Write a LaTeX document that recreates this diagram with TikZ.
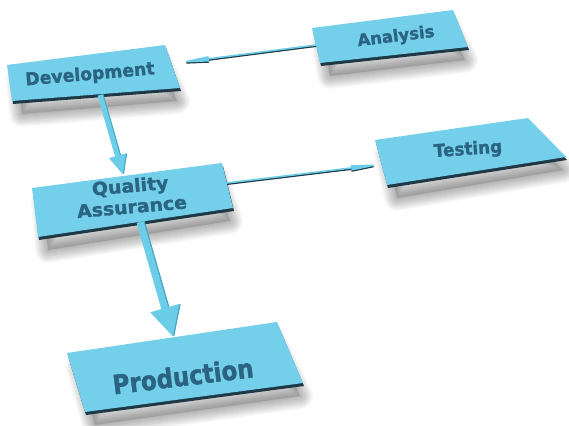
\documentclass[tikz,border=0pt]{standalone}
\usepackage{fontspec}
\setmainfont{DejaVu Sans}[BoldFeatures={FakeBold=1.5}]
\usetikzlibrary{arrows.meta,calc}
\definecolor{boxc}{HTML}{74CFEA}
\definecolor{edgec}{HTML}{1E3846}
\definecolor{txtc}{HTML}{2A6482}
\definecolor{arrc}{HTML}{6CCDE8}
\definecolor{arrd}{HTML}{4AA6C2}
\newcommand\flowbox[4]{%
  \fill[black,opacity=0.12]
      ($(#1)+(12,14)$)--($(#2)+(-6,14)$)--($(#3)+(-3,13)$)--($(#4)+(10,13)$)--cycle;
  \foreach \w in {2,4,...,26}{%
    \draw[black,opacity=0.022,line width=\w pt,line join=round]
      ($(#1)+(12,14)$)--($(#2)+(-6,14)$)--($(#3)+(-3,13)$)--($(#4)+(10,13)$)--cycle;}
  \fill[edgec,shift={(1,3)}] (#1)--(#2)--(#3)--(#4)--cycle;
  \fill[boxc] (#1)--(#2)--(#3)--(#4)--cycle;
}
\newcommand\flowlabel[7]{%
  \node[lbl,rotate=#3,xscale=#5,yscale=#6,font=\fontsize{#4}{#4}\selectfont\bfseries] (#1) at (#2) {#7};
}
\tikzset{
  lbl/.style={text=txtc,inner sep=0pt,align=center},
  vshaft/.style={arrc},
  hshaft/.style={arrc,line width=1.6pt},
  hedge/.style={edgec,line width=1.6pt,transform canvas={yshift=-1.2pt}},
}
\begin{document}
\begin{tikzpicture}[x=1pt,y=-1pt]
\useasboundingbox (0,0) rectangle (569,425);
\fill[white] (0,0) rectangle (569,425);
% boxes
\flowbox{312,28}{453,10}{468,47}{320,63}
\flowbox{7,65}{165,45}{180,88}{12,101}
\flowbox{375,140}{528,118}{566,157}{387,185}
\flowbox{32,188}{222,163}{233,208}{38,237}
\flowbox{67,353}{277,322}{303,383}{85,412}
% connector end points
\coordinate (anaL) at (316,45);
\coordinate (devR) at (176,63);
\coordinate (devB) at (100,95);
\coordinate (qaT) at (123,175);
\coordinate (qaR) at (227,183);
\coordinate (testL) at (384,164);
\coordinate (qaB) at (140,222);
\coordinate (prodT) at (173,337);
% horizontal ribbons
\draw[hedge,-{Triangle[length=33pt,width=5pt]}] (anaL)--(devR);
\draw[hshaft,-{Triangle[length=33pt,width=5pt]}] (anaL)--(devR);
\draw[hedge,-{Triangle[length=33pt,width=5pt]}] (qaR)--(testL);
\draw[hshaft,-{Triangle[length=33pt,width=5pt]}] (qaR)--(testL);
% vertical arrows
\draw[arrd,line width=5pt,-{Triangle[length=20pt,width=16pt]},transform canvas={xshift=1.2pt}] (devB)--(qaT);
\draw[vshaft,line width=5pt,-{Triangle[length=20pt,width=16pt]}] (devB)--(qaT);
\draw[arrd,line width=7pt,-{Triangle[length=30pt,width=28pt]},transform canvas={xshift=1.4pt}] (qaB)--(prodT);
\draw[vshaft,line width=7pt,-{Triangle[length=30pt,width=28pt]}] (qaB)--(prodT);
% labels
\flowlabel{ana}{396,37}{7}{15}{1.1}{1.1}{Analysis}
\flowlabel{dev}{90,75}{5}{16}{1.08}{1.1}{Development}
\flowlabel{test}{468,150}{4}{16}{1.05}{1.1}{Testing}
\node[lbl,rotate=5,xscale=1.05,font=\fontsize{18}{21}\selectfont\bfseries] (qa) at (131,196) {Quality\\Assurance};
\flowlabel{prod}{183,376}{7}{23}{1.0}{1.15}{Production}
\end{tikzpicture}
\end{document}
